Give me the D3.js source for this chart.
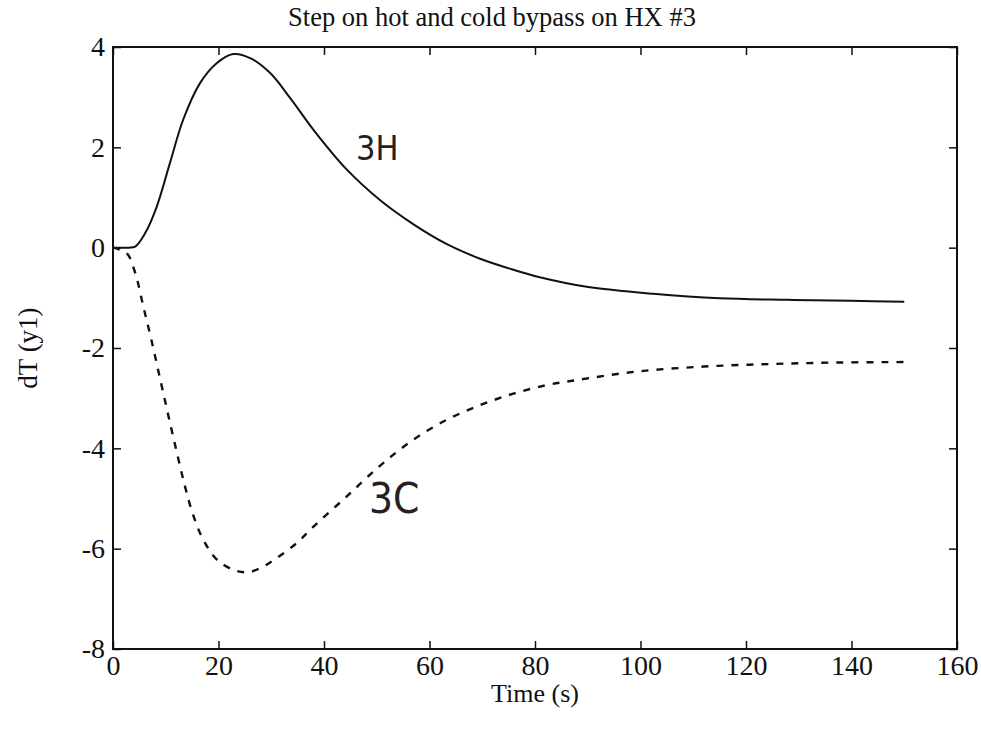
<!DOCTYPE html>
<html>
<head>
<meta charset="utf-8">
<script src="https://cdn.jsdelivr.net/npm/d3@7"></script>
<style>
  body { margin: 0; background: #fff; }
  svg { display: block; }
</style>
</head>
<body>
<div id="chart"></div>
<script>
// values (time in s, dT)
var hotTime = [0, 3, 4.2, 6.1, 8.3, 10.8, 13.3, 16.5, 19.7, 22.8, 26, 29.8, 33.6, 38, 44.3, 50.6, 56.9, 63.3, 69.6, 75.9, 80.9, 89.8, 102.4, 115, 128, 140, 150];
var hotDT = [0, 0, 0.02, 0.29, 0.82, 1.69, 2.55, 3.28, 3.68, 3.86, 3.78, 3.48, 2.98, 2.35, 1.56, 0.95, 0.47, 0.07, -0.22, -0.44, -0.59, -0.78, -0.92, -1.01, -1.04, -1.06, -1.08];

var coldTime = [0, 2.6, 4.2, 5.7, 7.3, 8.9, 10.5, 12.1, 13.6, 15.2, 17.1, 19.7, 22.8, 25.3, 27.9, 31, 34.8, 38, 44.3, 50.6, 56.9, 63.3, 69.6, 75.9, 82.2, 87.9, 99.3, 112, 124.5, 137, 150];
var coldDT = [0, -0.11, -0.50, -1.15, -1.85, -2.60, -3.35, -4.08, -4.74, -5.33, -5.82, -6.22, -6.42, -6.47, -6.39, -6.19, -5.89, -5.56, -4.96, -4.35, -3.83, -3.43, -3.14, -2.91, -2.74, -2.64, -2.47, -2.37, -2.32, -2.29, -2.28];

var xTicks = [0, 20, 40, 60, 80, 100, 120, 140, 160];
var yTicks = [-8, -6, -4, -2, 0, 2, 4];

var title = "Step on hot and cold bypass on HX #3";
var xLabel = "Time (s)";
var yLabel = "dT (y1)";

var width = 981, height = 734;
var margin = {top: 47, right: 24, bottom: 85, left: 113};
var w = width - margin.left - margin.right;
var h = height - margin.top - margin.bottom;

var svg = d3.select("#chart").append("svg").attr("width", width).attr("height", height);
var g = svg.append("g").attr("transform", "translate(" + margin.left + "," + margin.top + ")");

var x = d3.scaleLinear().domain([0, 160]).range([0, w]);
var y = d3.scaleLinear().domain([-8, 4]).range([h, 0]);

var serif = "'Liberation Serif', 'Times New Roman', serif";
// plain hyphen for negatives, like the original
var plain = function (d) { return String(d); };

// axes, ticks pointing inwards on all four sides
function styleAxis(sel) {
    sel.select(".domain").remove();
    sel.selectAll("line").attr("stroke", "#111").attr("stroke-width", 1.5);
    sel.selectAll("text").attr("font-family", serif).attr("font-size", 28).attr("fill", "#111");
}

g.append("g").attr("transform", "translate(0," + h + ")")
    .call(d3.axisBottom(x).tickValues(xTicks).tickFormat(plain).tickSize(-8).tickPadding(6))
    .call(styleAxis);
g.append("g")
    .call(d3.axisLeft(y).tickValues(yTicks).tickFormat(plain).tickSize(-8).tickPadding(8))
    .call(styleAxis);
g.append("g")
    .call(d3.axisTop(x).tickValues(xTicks).tickSize(-8).tickFormat(""))
    .call(styleAxis);
g.append("g").attr("transform", "translate(" + w + ",0)")
    .call(d3.axisRight(y).tickValues(yTicks).tickSize(-8).tickFormat(""))
    .call(styleAxis);

// frame
g.append("rect").attr("width", w).attr("height", h)
    .attr("fill", "none").attr("stroke", "#111").attr("stroke-width", 2);

var line = d3.line()
    .x(function (d) { return x(d[0]); })
    .y(function (d) { return y(d[1]); })
    .curve(d3.curveCatmullRom.alpha(0.5));

var hot = d3.zip(hotTime, hotDT);
var cold = d3.zip(coldTime, coldDT);

g.append("path").datum(hot).attr("d", line)
    .attr("fill", "none").attr("stroke", "#111").attr("stroke-width", 2);
g.append("path").datum(cold).attr("d", line)
    .attr("fill", "none").attr("stroke", "#111").attr("stroke-width", 2.4)
    .attr("stroke-dasharray", "7,8");

// hand written labels
svg.append("text").attr("x", 356).attr("y", 160)
    .attr("font-family", "'DejaVu Sans Condensed', 'DejaVu Sans', sans-serif")
    .attr("font-size", 34).attr("fill", "#222").text("3H");
svg.append("text").attr("x", 369).attr("y", 513)
    .attr("font-family", "'DejaVu Sans Condensed', 'DejaVu Sans', sans-serif")
    .attr("font-size", 42).attr("fill", "#222").text("3C");

// titles
svg.append("text").attr("x", 492).attr("y", 26)
    .attr("text-anchor", "middle").attr("font-family", serif)
    .attr("font-size", 26.5).attr("fill", "#111").text(title);
svg.append("text").attr("x", margin.left + w / 2).attr("y", 702)
    .attr("text-anchor", "middle").attr("font-family", serif)
    .attr("font-size", 26).attr("fill", "#111").text(xLabel);
svg.append("text").attr("transform", "translate(37," + (margin.top + h / 2) + ") rotate(-90)")
    .attr("text-anchor", "middle").attr("font-family", serif)
    .attr("font-size", 27).attr("fill", "#111").text(yLabel);
</script>
</body>
</html>
